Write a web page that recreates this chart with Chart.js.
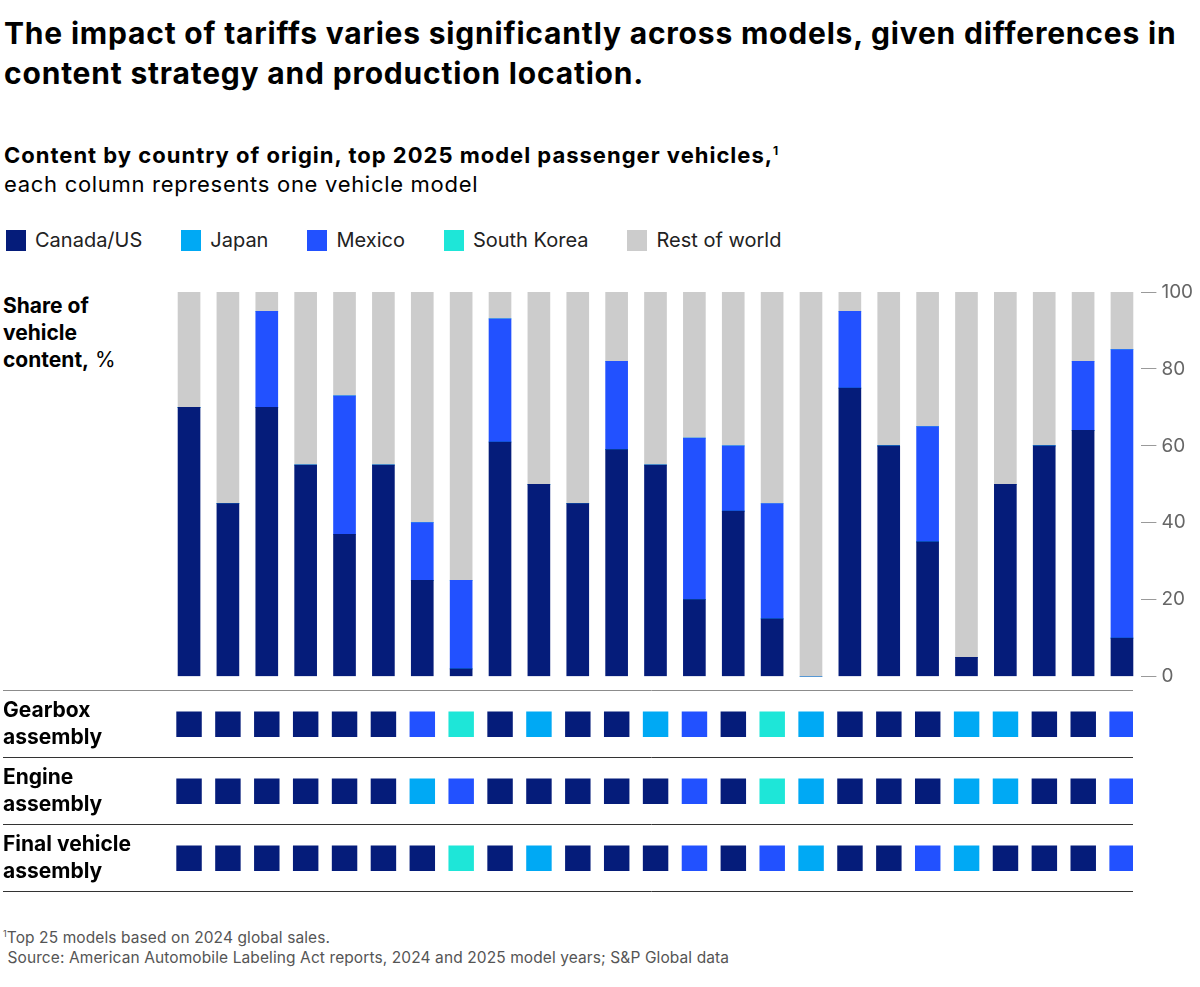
<!DOCTYPE html>
<html>
<head>
<meta charset="utf-8">
<script src="https://cdn.jsdelivr.net/npm/chart.js@4.4.1/dist/chart.umd.min.js"></script>
<style>
  body { margin: 0; background: #fff; font-family: Inter, "Liberation Sans", sans-serif; color: #000; }
  #pagina { position: relative; width: 1200px; height: 987px; overflow: hidden; }
  .abs { position: absolute; }
  #titulo { left: 4px; top: 13px; width: 1196px; font-size: 30px; font-weight: 700; line-height: 40px; letter-spacing: 0.8px; white-space: nowrap; }
  #subtitulo { left: 4px; top: 136px; font-size: 22px; line-height: 29px; letter-spacing: 0.7px; }
  #subtitulo b { font-weight: 700; letter-spacing: 1px; }
  #subtitulo sup { font-size: 12px; }
  #legenda { left: 6px; top: 229px; display: flex; gap: 39px; font-size: 20px; line-height: 22px; color: #222; }
  #legenda .item { display: flex; align-items: center; gap: 9px; }
  #legenda .caixa { width: 20px; height: 21px; }
  #eixoTitulo { left: 3px; top: 292px; font-size: 21px; line-height: 27px; }
  #nota { left: 3px; top: 924px; font-size: 15.5px; line-height: 20px; color: #555; white-space: pre; letter-spacing: 0.1px; }
  canvas { position: absolute; left: 0; }
</style>
</head>
<body>
<div id="pagina">
  <div id="titulo" class="abs">The impact of tariffs varies significantly across models, given differences in<br>content strategy and production location.</div>
  <div id="subtitulo" class="abs"><b>Content by country of origin, top 2025 model passenger vehicles,<sup>1</sup></b><br>each column represents one vehicle model</div>
  <div id="legenda" class="abs"></div>
  <div id="eixoTitulo" class="abs"><b>Share of<br>vehicle<br>content,</b> %</div>
  <canvas id="barrasChart" width="1200" height="424" style="top:270px"></canvas>
  <canvas id="montagemChart" width="1200" height="260" style="top:660px"></canvas>
  <div id="nota" class="abs"><sup style="font-size:9px">1</sup>Top 25 models based on 2024 global sales.
 Source: American Automobile Labeling Act reports, 2024 and 2025 model years; S&amp;P Global data</div>
</div>
<script>
const models = ["1", "2", "3", "4", "5", "6", "7", "8", "9", "10", "11", "12", "13",
  "14", "15", "16", "17", "18", "19", "20", "21", "22", "23", "24", "25"];

// share of vehicle content, %
const canadaUS = [70, 45, 70, 55, 37, 55, 25, 2, 61, 50, 45, 59, 55, 20, 43, 15, 0, 75, 60, 35, 5, 50, 60, 64, 10];
const japan = [0, 0, 0, 0, 0, 0, 0, 0, 0, 0, 0, 0, 0, 0, 0, 0, 0, 0, 0, 0, 0, 0, 0, 0, 0];
const mexico = [0, 0, 25, 0, 36, 0, 15, 23, 32, 0, 0, 23, 0, 42, 17, 30, 0, 20, 0, 30, 0, 0, 0, 18, 75];
const southKorea = [0, 0, 0, 0, 0, 0, 0, 0, 0, 0, 0, 0, 0, 0, 0, 0, 0, 0, 0, 0, 0, 0, 0, 0, 0];
const restOfWorld = [30, 55, 5, 45, 27, 45, 60, 75, 7, 50, 55, 18, 45, 38, 40, 55, 100, 5, 40, 35, 95, 50, 40, 18, 15];

const yTicks = [0, 20, 40, 60, 80, 100];

// where each model is assembled
const rowNames = ["Gearbox assembly", "Engine assembly", "Final vehicle assembly"];
const gearboxOrigin = ["Canada/US", "Canada/US", "Canada/US", "Canada/US", "Canada/US", "Canada/US", "Mexico", "South Korea", "Canada/US", "Japan", "Canada/US", "Canada/US", "Japan",
  "Mexico", "Canada/US", "South Korea", "Japan", "Canada/US", "Canada/US", "Canada/US", "Japan", "Japan", "Canada/US", "Canada/US", "Mexico"];
const engineOrigin = ["Canada/US", "Canada/US", "Canada/US", "Canada/US", "Canada/US", "Canada/US", "Japan", "Mexico", "Canada/US", "Canada/US", "Canada/US", "Canada/US", "Canada/US",
  "Mexico", "Canada/US", "South Korea", "Japan", "Canada/US", "Canada/US", "Canada/US", "Japan", "Japan", "Canada/US", "Canada/US", "Mexico"];
const finalOrigin = ["Canada/US", "Canada/US", "Canada/US", "Canada/US", "Canada/US", "Canada/US", "Canada/US", "South Korea", "Canada/US", "Japan", "Canada/US", "Canada/US", "Canada/US",
  "Mexico", "Canada/US", "Mexico", "Japan", "Canada/US", "Canada/US", "Mexico", "Japan", "Canada/US", "Canada/US", "Canada/US", "Mexico"];

const cores = {
  "Canada/US": "#051c7a",
  "Japan": "#00a9f4",
  "Mexico": "#2251ff",
  "South Korea": "#1ee6d8",
  "Rest of world": "#cccccc"
};

const fonte = "Inter, 'Liberation Sans', sans-serif";

function montarLegenda() {
  const legenda = document.getElementById("legenda");
  legenda.innerHTML = Object.keys(cores).map(nome =>
    `<div class="item"><span class="caixa" style="background:${cores[nome]}"></span>${nome}</div>`
  ).join("");
}

function renderizarBarras() {
  const ctx = document.getElementById("barrasChart").getContext("2d");
  const series = [
    ["Canada/US", canadaUS],
    ["Japan", japan],
    ["Mexico", mexico],
    ["South Korea", southKorea],
    ["Rest of world", restOfWorld]
  ];

  new Chart(ctx, {
    type: "bar",
    data: {
      labels: models,
      datasets: series.map(([nome, valores]) => ({
        label: nome,
        data: valores,
        backgroundColor: cores[nome],
        borderWidth: 0,
        barThickness: 22
      }))
    },
    options: {
      responsive: false,
      animation: false,
      layout: { padding: { left: 169.6, top: 22, bottom: 17.5, right: 0 } },
      plugins: { legend: { display: false }, tooltip: { enabled: false } },
      scales: {
        x: { stacked: true, display: false },
        y: {
          stacked: true,
          position: "right",
          min: 0,
          max: 100,
          afterBuildTicks: s => { s.ticks = yTicks.map(v => ({ value: v })); },
          afterFit: s => { s.width = 58.6; },
          grid: { drawOnChartArea: false, tickLength: 15, tickColor: "#9a9a9a", lineWidth: 1 },
          border: { display: false },
          ticks: { padding: 5, color: "#666", font: { family: fonte, size: 19 } }
        }
      }
    }
  });
}

function renderizarMontagem() {
  const ctx = document.getElementById("montagemChart").getContext("2d");
  const linhas = [gearboxOrigin, engineOrigin, finalOrigin];
  const corLinha = c => (c.index === 0 || c.index === rowNames.length) ? "#8c8c8c" : "#333";

  new Chart(ctx, {
    type: "scatter",
    data: {
      datasets: linhas.map((origens, r) => ({
        label: rowNames[r],
        data: origens.map((o, i) => ({ x: i, y: rowNames[r] })),
        pointStyle: "rect",
        pointRadius: 18,
        pointHoverRadius: 18,
        pointBorderWidth: 0,
        pointBackgroundColor: origens.map(o => cores[o])
      }))
    },
    options: {
      responsive: false,
      animation: false,
      layout: { padding: { left: 3, top: 30.7, bottom: 28.3, right: 67 } },
      plugins: { legend: { display: false }, tooltip: { enabled: false } },
      scales: {
        x: { type: "linear", display: false, min: -0.5, max: 24.28 },
        y: {
          type: "category",
          labels: rowNames,
          offset: true,
          position: "left",
          afterFit: s => { s.width = 166.6; },
          grid: { offset: true, tickLength: 166.6, lineWidth: 1, color: corLinha, tickColor: corLinha },
          border: { display: false },
          ticks: {
            crossAlign: "far",
            padding: 0,
            color: "#000",
            font: { family: fonte, size: 21, weight: "bold", lineHeight: 1.286 },
            callback: (v, i) => {
              const nome = rowNames[i];
              const corte = nome.lastIndexOf(" ");
              return [nome.slice(0, corte), nome.slice(corte + 1)];
            }
          }
        }
      }
    }
  });
}

document.addEventListener("DOMContentLoaded", () => {
  montarLegenda();
  renderizarBarras();
  renderizarMontagem();
});
</script>
</body>
</html>
